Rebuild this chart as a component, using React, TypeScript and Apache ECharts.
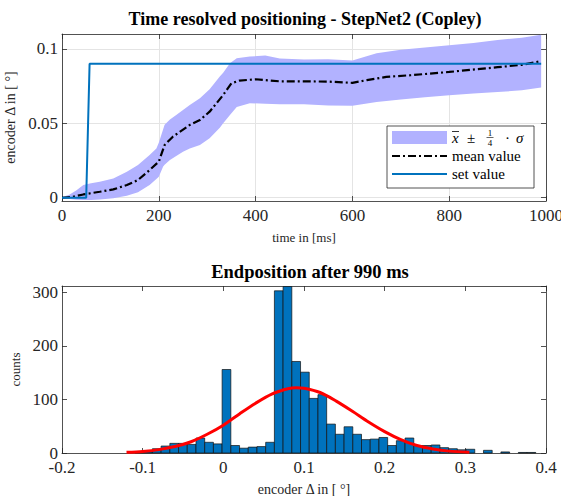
import React, { useEffect, useRef } from "react";
import * as echarts from "echarts";

// ---- Top chart data (time in ms, encoder delta in degrees) ----
const BAND_T = [0, 15, 30, 44, 60, 78, 106, 134, 157, 181, 195, 200, 209, 212, 223, 236, 250, 264, 285, 305, 326, 333, 347, 361, 388, 420, 450, 500, 550, 600, 650, 700, 750, 800, 850, 900, 950, 990];
const BAND_UPPER = [0.0003, 0.002, 0.005, 0.0085, 0.0098, 0.0108, 0.013, 0.0175, 0.022, 0.0287, 0.033, 0.037, 0.046, 0.049, 0.0525, 0.0556, 0.059, 0.0623, 0.0668, 0.0729, 0.0814, 0.084, 0.0904, 0.0937, 0.0948, 0.0955, 0.0935, 0.0928, 0.093, 0.0922, 0.097, 0.0995, 0.101, 0.1025, 0.104, 0.106, 0.1075, 0.1095];
const BAND_LOWER = [-0.0004, -0.0008, -0.0013, -0.0016, -0.0016, -0.0012, -0.0004, 0.0013, 0.0036, 0.0085, 0.0125, 0.0141, 0.0209, 0.0222, 0.0253, 0.028, 0.0309, 0.033, 0.0354, 0.0399, 0.047, 0.05, 0.0555, 0.061, 0.0635, 0.0632, 0.0628, 0.0628, 0.062, 0.0618, 0.0643, 0.066, 0.0675, 0.0688, 0.07, 0.071, 0.0722, 0.074];

const MEAN_T = [0, 20, 44, 78, 106, 134, 157, 181, 200, 212, 229, 264, 285, 305, 333, 350, 367, 400, 420, 450, 500, 550, 600, 630, 670, 720, 800, 900, 950, 990];
const MEAN_V = [0, 0.0005, 0.0022, 0.004, 0.0056, 0.0085, 0.0119, 0.0186, 0.0242, 0.0354, 0.041, 0.0489, 0.0522, 0.0578, 0.069, 0.0769, 0.0787, 0.0796, 0.079, 0.0782, 0.0782, 0.078, 0.0772, 0.079, 0.0812, 0.0823, 0.0845, 0.0877, 0.0893, 0.0918];

const SET_T = [0, 50, 57, 990];
const SET_V = [0, 0, 0.09, 0.09];

const TOP_Y_TICKS = [0, 0.05, 0.1];

// ---- Bottom chart data (histogram of end position) ----
const HIST_START = -0.1095;
const HIST_BIN_WIDTH = 0.0108;
const HIST_COUNTS = [1, 2, 8, 13, 18, 18, 16, 28, 20, 17, 156, 14, 9, 11, 12, 20, 303, 311, 171, 151, 102, 109, 54, 35, 49, 35, 25, 26, 29, 14, 23, 28, 14, 14, 15, 10, 8, 6, 7, 0, 5, 0, 2, 0, 1, 1];

const FIT_X = [-0.12, -0.1, -0.08, -0.06, -0.04, -0.02, 0, 0.02, 0.04, 0.06, 0.08, 0.09, 0.1, 0.12, 0.14, 0.16, 0.18, 0.2, 0.22, 0.24, 0.26, 0.28, 0.305];
const FIT_Y = [1.3, 3, 6.3, 12, 21, 35, 52, 73, 93, 110, 120, 122, 121, 113, 97, 78, 58, 40, 25, 14, 7.5, 3.5, 1.3];

const FONT = "Liberation Serif";
const AX = "#262626";

export default function App() {
  const ref = useRef<HTMLDivElement>(null);
  useEffect(() => {
    if (!ref.current) return;
    const chart = echarts.init(ref.current, undefined, { renderer: "svg" });

    const axisLine = { show: true, onZero: false, lineStyle: { color: AX, width: 0.8 } };
    const tick = { show: true, inside: true, length: 5, lineStyle: { color: AX, width: 0.8 } };
    const label = { color: AX, fontSize: 17, fontFamily: FONT, formatter: (v: number) => String(v) };
    const nameStyle = { color: AX, fontSize: 13, fontFamily: FONT };
    const encStyle = { color: AX, fontSize: 14, fontFamily: FONT };
    const grid = { show: true, lineStyle: { color: "#e4e4e4", width: 1 } };

    const histData = HIST_COUNTS.map((c, i) => [
      HIST_START + i * HIST_BIN_WIDTH,
      HIST_START + (i + 1) * HIST_BIN_WIDTH,
      c,
    ]);

    const option: any = {
      animation: false,
      textStyle: { fontFamily: FONT },
      grid: [
        { left: 62, right: 15, top: 34, height: 167, containLabel: false, outerBoundsMode: "none" },
        { left: 62, right: 15, top: 286, height: 167, containLabel: false, outerBoundsMode: "none" },
      ],
      xAxis: [
        {
          gridIndex: 0, type: "value", min: 0, max: 1000, interval: 200, position: "bottom",
          axisLine, axisTick: tick, axisLabel: { ...label, margin: 6 }, splitLine: grid,
          name: "time in [ms]", nameLocation: "middle", nameGap: 30, nameTextStyle: nameStyle,
        },
        {
          gridIndex: 0, type: "value", min: 0, max: 1000, interval: 200, position: "top",
          axisLine, axisTick: tick, axisLabel: { show: false }, splitLine: { show: false },
        },
        {
          gridIndex: 1, type: "value", min: -0.2, max: 0.4, interval: 0.1, position: "bottom",
          axisLine, axisTick: tick, axisLabel: { ...label, margin: 6 }, splitLine: { show: false },
          name: "encoder Δ in [ °]", nameLocation: "middle", nameGap: 29, nameTextStyle: encStyle,
        },
        {
          gridIndex: 1, type: "value", min: -0.2, max: 0.4, interval: 0.1, position: "top",
          axisLine, axisTick: tick, axisLabel: { show: false }, splitLine: { show: false },
        },
      ],
      yAxis: [
        {
          gridIndex: 0, type: "value", min: -0.0022, max: 0.11, position: "left",
          axisLine, axisTick: { ...tick, customValues: TOP_Y_TICKS },
          axisLabel: { ...label, margin: 4, customValues: TOP_Y_TICKS }, splitLine: grid,
          name: "encoder Δ in [ °]", nameLocation: "middle", nameGap: 33, nameTextStyle: encStyle,
        },
        {
          gridIndex: 0, type: "value", min: -0.0022, max: 0.11, position: "right",
          axisLine, axisTick: { ...tick, customValues: TOP_Y_TICKS },
          axisLabel: { show: false }, splitLine: { show: false },
        },
        {
          gridIndex: 1, type: "value", min: 0, max: 312, interval: 100, position: "left",
          axisLine, axisTick: tick, axisLabel: { ...label, margin: 4, showMaxLabel: false },
          splitLine: { show: false },
          name: "counts", nameLocation: "middle", nameGap: 30, nameTextStyle: nameStyle,
        },
        {
          gridIndex: 1, type: "value", min: 0, max: 312, interval: 100, position: "right",
          axisLine, axisTick: tick, axisLabel: { show: false }, splitLine: { show: false },
        },
      ],
      series: [
        {
          type: "custom", xAxisIndex: 0, yAxisIndex: 0, silent: true, z: 1,
          data: [0],
          renderItem: (params: any, api: any) => {
            const pts: number[][] = [];
            for (let i = 0; i < BAND_T.length; i++) pts.push(api.coord([BAND_T[i], BAND_UPPER[i]]));
            for (let i = BAND_T.length - 1; i >= 0; i--) pts.push(api.coord([BAND_T[i], BAND_LOWER[i]]));
            return { type: "polygon", shape: { points: pts, smooth: 0 }, style: { fill: "#b2b2ff" } };
          },
        },
        {
          type: "line", xAxisIndex: 0, yAxisIndex: 0, z: 3,
          data: MEAN_T.map((t, i) => [t, MEAN_V[i]]),
          symbol: "none", lineStyle: { color: "#000", width: 2.2, type: [8, 3, 2, 3] },
        },
        {
          type: "line", xAxisIndex: 0, yAxisIndex: 0, z: 3,
          data: SET_T.map((t, i) => [t, SET_V[i]]),
          symbol: "none", lineStyle: { color: "#0072bd", width: 2 },
        },
        {
          type: "custom", xAxisIndex: 2, yAxisIndex: 2,
          data: histData,
          encode: { x: [0, 1], y: 2 },
          renderItem: (params: any, api: any) => {
            const c = api.value(2);
            if (!c) return null;
            const p0 = api.coord([api.value(0), c]);
            const p1 = api.coord([api.value(1), 0]);
            return {
              type: "rect",
              shape: { x: p0[0], y: p0[1], width: p1[0] - p0[0], height: p1[1] - p0[1] },
              style: { fill: "#0072bd", stroke: "#111", lineWidth: 0.7 },
            };
          },
        },
        {
          type: "line", xAxisIndex: 2, yAxisIndex: 2, z: 3,
          data: FIT_X.map((x, i) => [x, FIT_Y[i]]),
          smooth: 0.3, symbol: "none", lineStyle: { color: "#ff0000", width: 3 },
        },
      ],
      graphic: [
        { type: "text", x: 305, y: 19, style: { text: "Time resolved positioning - StepNet2 (Copley)", font: `bold 18px ${FONT}`, fill: "#000", textAlign: "center", textVerticalAlign: "middle" } },
        { type: "text", x: 310, y: 272, style: { text: "Endposition after 990 ms", font: `bold 18.5px ${FONT}`, fill: "#000", textAlign: "center", textVerticalAlign: "middle" } },
        // legend
        { type: "rect", shape: { x: 387, y: 126, width: 147, height: 62 }, style: { fill: "#fff", stroke: AX, lineWidth: 0.8 }, z: 10 },
        { type: "rect", shape: { x: 392, y: 131, width: 55, height: 13 }, style: { fill: "#b2b2ff" }, z: 11 },
        { type: "line", shape: { x1: 392, y1: 156, x2: 447, y2: 156 }, style: { stroke: "#000", lineWidth: 2.2, lineDash: [8, 3, 2, 3] }, z: 11 },
        { type: "line", shape: { x1: 392, y1: 174, x2: 447, y2: 174 }, style: { stroke: "#0072bd", lineWidth: 2 }, z: 11 },
        { type: "text", x: 452, y: 138, style: { text: "x", font: `italic 15px ${FONT}`, fill: "#000", textVerticalAlign: "middle" }, z: 11 },
        { type: "line", shape: { x1: 452, y1: 131.5, x2: 459, y2: 131.5 }, style: { stroke: "#000", lineWidth: 0.8 }, z: 11 },
        { type: "text", x: 467, y: 138, style: { text: "±", font: `15px ${FONT}`, fill: "#000", textVerticalAlign: "middle" }, z: 11 },
        { type: "text", x: 490, y: 132.5, style: { text: "1", font: `9px ${FONT}`, fill: "#000", textAlign: "center", textVerticalAlign: "middle" }, z: 11 },
        { type: "line", shape: { x1: 486.5, y1: 137.5, x2: 493.5, y2: 137.5 }, style: { stroke: "#000", lineWidth: 0.6 }, z: 11 },
        { type: "text", x: 490, y: 142.5, style: { text: "4", font: `9px ${FONT}`, fill: "#000", textAlign: "center", textVerticalAlign: "middle" }, z: 11 },
        { type: "text", x: 505, y: 138, style: { text: "·", font: `15px ${FONT}`, fill: "#000", textVerticalAlign: "middle" }, z: 11 },
        { type: "text", x: 516, y: 138, style: { text: "σ", font: `italic 15px ${FONT}`, fill: "#000", textVerticalAlign: "middle" }, z: 11 },
        { type: "text", x: 452, y: 156, style: { text: "mean value", font: `15px ${FONT}`, fill: "#000", textVerticalAlign: "middle" }, z: 11 },
        { type: "text", x: 452, y: 174, style: { text: "set value", font: `15px ${FONT}`, fill: "#000", textVerticalAlign: "middle" }, z: 11 },
      ],
    };
    chart.setOption(option);
    return () => chart.dispose();
  }, []);
  return <div ref={ref} style={{ position: "absolute", left: 0, top: 0, width: 561, height: 496, background: "#fff" }} />;
}
